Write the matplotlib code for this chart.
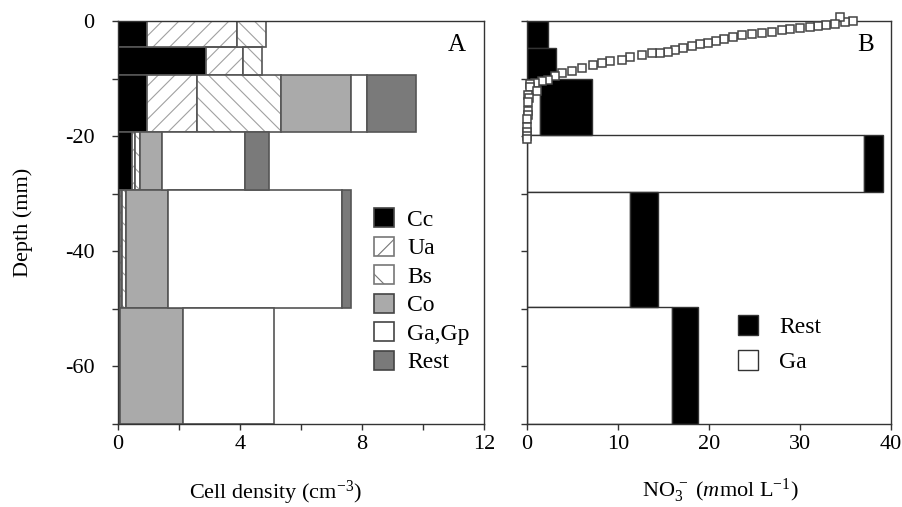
import numpy as np
import matplotlib.pyplot as plt
from matplotlib.patches import Patch

plt.rcParams['font.family'] = ['Liberation Serif', 'DejaVu Serif']
plt.rcParams['mathtext.fontset'] = 'custom'
plt.rcParams['mathtext.rm'] = 'Liberation Serif'
plt.rcParams['mathtext.it'] = 'Liberation Serif:italic'
plt.rcParams['axes.unicode_minus'] = False
plt.rcParams['hatch.linewidth'] = 0.8

# panel A: cell density per depth layer (mm)
layer_top_a = [0, -4.6, -9.3, -19.2, -29.4, -49.8]
layer_bot_a = [-4.6, -9.3, -19.2, -29.4, -49.8, -70]
groups_a = ["Cc", "Ua", "Bs", "Co", "Ga,Gp", "Rest"]
cc = [0.96, 2.87, 0.94, 0.47, 0.08, 0.04]
ua = [2.93, 1.22, 1.66, 0.10, 0.06, 0.0]
bs = [0.96, 0.62, 2.74, 0.15, 0.12, 0.04]
co = [0.0, 0.0, 2.29, 0.71, 1.39, 2.05]
ga = [0.0, 0.0, 0.52, 2.73, 5.70, 2.99]
rest_a = [0.0, 0.0, 1.61, 0.80, 0.28, 0.0]

# panel B: NO3- per depth layer
layer_top_b = [0, -4.7, -10, -19.8, -29.7, -49.6]
layer_bot_b = [-4.7, -10, -19.8, -29.7, -49.6, -70]
ga_b = [0.0, 0.0, 1.4, 37.0, 11.3, 15.9]
rest_b = [2.3, 3.2, 5.7, 2.1, 3.1, 2.9]

# NO3- profile (squares)
no3_conc = [35.8, 34.9, 34.4, 33.8, 32.9, 32.0, 31.1, 30.0, 28.9, 28.0, 26.9, 25.8,
            24.7, 23.6, 22.6, 21.6, 20.8, 19.9, 19.0, 18.1, 17.1, 16.3, 15.5, 14.6,
            13.7, 12.6, 11.3, 10.4, 9.1, 8.2, 7.3, 6.0, 4.9, 3.8, 3.1, 2.3, 1.6, 0.9,
            0.3, 0.3, 1.1, 0.1, 0.2, 0.1, 0.1, 0.1, 0.0, 0.0, 0.0, 0.0, 0.0]
no3_depth = [0.0, -0.2, 0.7, -0.5, -0.7, -0.9, -1.0, -1.2, -1.4, -1.6, -1.9, -2.1,
             -2.2, -2.5, -2.8, -3.1, -3.4, -3.8, -4.0, -4.3, -4.7, -5.0, -5.3, -5.5,
             -5.6, -5.9, -6.2, -6.7, -7.0, -7.3, -7.6, -8.2, -8.7, -9.0, -9.6, -10.2,
             -10.5, -10.7, -11.0, -11.5, -12.2, -12.8, -13.4, -14.1, -15.7, -16.4,
             -17.1, -18.4, -19.2, -20.0, -20.5]

edge = '#555555'
fig = plt.figure(figsize=(9.03, 5.07), dpi=100)
axA = fig.add_axes([0.1307, 0.1637, 0.4053, 0.7949])
axB = fig.add_axes([0.5836, 0.1637, 0.4031, 0.7949])

top_a = np.array(layer_top_a)
h_a = top_a - np.array(layer_bot_a)
styles_a = [('black', None), ('white', '//'), ('white', '\\\\'),
            ('#aaaaaa', None), ('white', None), ('#7a7a7a', None)]
left = np.zeros(len(top_a))
for vals, (fc, hatch) in zip([cc, ua, bs, co, ga, rest_a], styles_a):
    w = np.array(vals)
    m = w > 0
    if hatch:
        axA.barh(top_a[m], w[m], height=-h_a[m], left=left[m], align='edge',
                 color='white', hatch=hatch, edgecolor='#a0a0a0', lw=0)
        axA.barh(top_a[m], w[m], height=-h_a[m], left=left[m], align='edge',
                 fill=False, edgecolor=edge, lw=1.2)
    else:
        axA.barh(top_a[m], w[m], height=-h_a[m], left=left[m], align='edge',
                 color=fc, edgecolor=edge, lw=1.2)
    left = left + w

handles_a = [Patch(facecolor=fc, edgecolor='#444444' if not h else '#777777',
                   hatch=h[0] if h else None, lw=1.2) for fc, h in styles_a]
axA.legend(handles_a, groups_a, loc='upper left', bbox_to_anchor=(0.70, 0.535),
           frameon=False, fontsize=17, borderpad=0, borderaxespad=0,
           handlelength=0.85, handleheight=0.85, handletextpad=0.55,
           labelspacing=0.25)

top_b = np.array(layer_top_b)
h_b = top_b - np.array(layer_bot_b)
gb = np.array(ga_b)
axB.barh(top_b, gb, height=-h_b, align='edge', color='white',
         edgecolor='#333333', lw=1)
axB.barh(top_b, rest_b, height=-h_b, left=gb, align='edge', color='black',
         edgecolor='#333333', lw=1)
axB.plot(no3_conc, no3_depth, 's', ms=6.2, mfc='white', mec='#444444', mew=1.1,
         clip_on=False, zorder=5)
handles_b = [Patch(facecolor='black', edgecolor='#333333'),
             Patch(facecolor='white', edgecolor='#333333')]
axB.legend(handles_b, ["Rest", "Ga"], loc='upper left', bbox_to_anchor=(0.58, 0.27),
           frameon=False, fontsize=17, borderpad=0, borderaxespad=0,
           handlelength=0.85, handleheight=0.9, handletextpad=0.9,
           labelspacing=0.5)

for ax in (axA, axB):
    ax.set_ylim(-70, 0)
    ax.set_yticks([0, -20, -40, -60])
    ax.set_yticks([-10, -30, -50, -70], minor=True)
    ax.tick_params(which='both', direction='out', length=4, width=1,
                   color='#333333', labelsize=16)
    ax.tick_params(axis='y', pad=13)
    ax.tick_params(axis='x', pad=4)
    for s in ax.spines.values():
        s.set_color('#333333')
        s.set_linewidth(1)

axA.set_xlim(0, 12)
axA.set_xticks([0, 4, 8, 12])
axA.set_xticks([2, 6, 10], minor=True)
axB.set_xlim(0, 40)
axB.set_xticks([0, 10, 20, 30, 40])
axB.set_yticklabels([])

axA.text(0.926, 0.94, "A", transform=axA.transAxes, fontsize=18,
         ha='center', va='center')
axB.text(0.929, 0.94, "B", transform=axB.transAxes, fontsize=18,
         ha='center', va='center')

axA.set_ylabel("Depth (mm)", fontsize=16)
axA.yaxis.set_label_coords(-0.232, 0.5)
axA.set_xlabel("Cell density (cm$^{-3}$)", fontsize=16)
axA.xaxis.set_label_coords(0.43, -0.135)
axB.set_xlabel(r"NO$_3^{\,-}$ ($\mathit{m}$mol L$^{-1}$)", fontsize=16)
axB.xaxis.set_label_coords(0.53, -0.13)

fig.savefig("out.png", dpi=100)
